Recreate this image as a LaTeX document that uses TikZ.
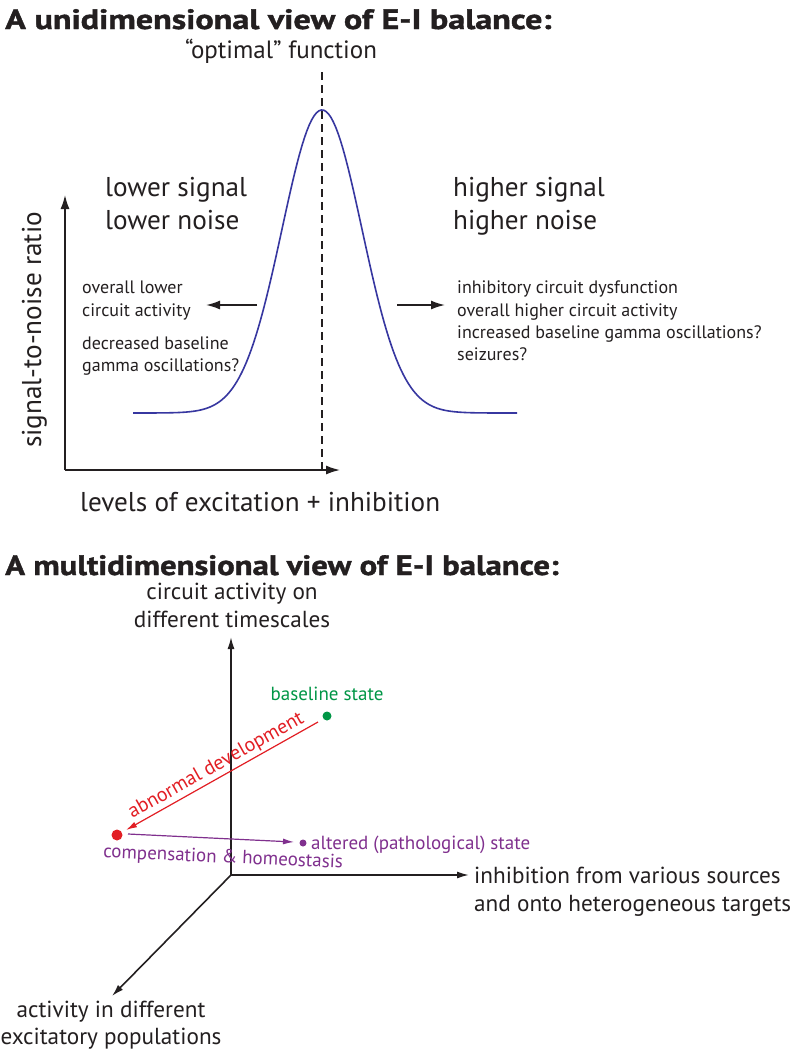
\documentclass[tikz,border=0pt]{standalone}
\usepackage{fontspec}
\setmainfont{PT Sans}
\newfontfamily\titlefont[BoldFeatures={FakeBold=1.2}]{PT Sans}
\usetikzlibrary{arrows.meta}
\definecolor{ink}{RGB}{35,31,32}
\definecolor{curveblue}{RGB}{55,55,160}
\definecolor{stgreen}{RGB}{0,150,70}
\definecolor{devred}{RGB}{226,30,36}
\definecolor{homeopurple}{RGB}{128,48,142}
\tikzset{
  title/.style={font=\fontsize{28}{30}\titlefont\bfseries, text=ink, inner sep=0pt, anchor=base west},
  bigtxt/.style={font=\fontsize{27.2}{30}\selectfont, text=ink, inner sep=0pt},
  midtxt/.style={font=\fontsize{23.2}{27}\selectfont, text=ink, inner sep=0pt},
  smalltxt/.style={font=\fontsize{18}{22}\selectfont, text=ink, inner sep=0pt, anchor=base west},
  coltxt/.style={font=\fontsize{19}{22}\selectfont, inner sep=0pt},
  axis1/.style={draw=ink, line width=1.5pt, -{Latex[length=14pt,width=9pt]}},
  axis2/.style={draw=ink, line width=1.6pt, -{Latex[length=12pt,width=7pt]}},
  shortarrow/.style={draw=ink, line width=1.6pt, -{Latex[length=14pt,width=9pt]}},
}
\begin{document}
\begin{tikzpicture}[x=1pt,y=-1pt]
\useasboundingbox[fill=white] (0,0) rectangle (794,1050);

% ---------- Part 1 ----------
\node[title, xscale=1.22] (t1) at (5,29) {A unidimensional view of E-I balance:};
\node[bigtxt, font=\fontsize{25}{30}\selectfont, anchor=base] (opt) at (281,58) {“optimal” function};

\draw[ink, line width=1.3pt, dash pattern=on 8pt off 5pt] (322,72) -- (322,470);

\draw[curveblue, line width=1.6pt, line join=round]
  plot[domain=133:517, samples=160] (\x, {413-303*exp(-0.5*((\x-322)/40)^2)});

\coordinate (o1) at (65,470);
\coordinate (ytip) at (65,195);
\coordinate (xtip) at (340,470);
\draw[axis1] (o1) -- (ytip);
\draw[axis1] (o1) -- (xtip);

\node[bigtxt, rotate=90, anchor=base] (snr) at (41,330) {signal-to-noise ratio};
\node[bigtxt, anchor=base west] (lev) at (80,511) {levels of excitation + inhibition};

\node[bigtxt, anchor=base west] (ls1) at (105,196) {lower signal};
\node[bigtxt, anchor=base west] (ls2) at (105,229) {lower noise};
\node[bigtxt, anchor=base west] (hs1) at (453,196) {higher signal};
\node[bigtxt, anchor=base west] (hs2) at (453,229) {higher noise};

\node[smalltxt] (l1) at (82,293) {overall lower};
\node[smalltxt] (l2) at (82,316) {circuit activity};
\node[smalltxt] (l3) at (82,349) {decreased baseline};
\node[smalltxt] (l4) at (82,371) {gamma oscillations?};

\node[smalltxt] (r1) at (457,293) {inhibitory circuit dysfunction};
\node[smalltxt] (r2) at (457,316) {overall higher circuit activity};
\node[smalltxt] (r3) at (457,338) {increased baseline gamma oscillations?};
\node[smalltxt] (r4) at (457,360) {seizures?};

\coordinate (la0) at (257,305);
\coordinate (la1) at (206,305);
\coordinate (ra0) at (397,305);
\coordinate (ra1) at (445,305);
\draw[shortarrow] (la0) -- (la1);
\draw[shortarrow] (ra0) -- (ra1);

% ---------- Part 2 ----------
\node[title, xscale=1.17] (t2) at (5,575) {A multidimensional view of E-I balance:};
\node[midtxt, anchor=base] (yl1) at (232,599) {circuit activity on};
\node[midtxt, anchor=base] (yl2) at (232,627) {different timescales};

\coordinate (o2) at (231,875);
\coordinate (y2) at (231,637);
\coordinate (x2) at (469,875);
\coordinate (z2) at (112,996);
\draw[axis2] (o2) -- (y2);
\draw[axis2] (o2) -- (x2);
\draw[axis2] (o2) -- (z2);

\node[midtxt, anchor=base west] (xl1) at (474,883) {inhibition from various sources};
\node[midtxt, anchor=base west] (xl2) at (474,911) {and onto heterogeneous targets};
\node[midtxt, anchor=base] (zl1) at (111,1017) {activity in different};
\node[midtxt, anchor=base] (zl2) at (111,1044) {excitatory populations};

\node[circle, fill=stgreen, inner sep=0pt, minimum size=9pt] (base) at (327,716) {};
\node[coltxt, text=stgreen, anchor=base] (basel) at (327,700) {baseline state};

\node[circle, fill=devred, inner sep=0pt, minimum size=11pt] (abn) at (117,835) {};
\node[circle, fill=homeopurple, inner sep=0pt, minimum size=7pt] (alt) at (303,843) {};
\node[coltxt, text=homeopurple, anchor=base west] (altl) at (311,849) {altered (pathological) state};

\draw[devred, line width=1.2pt, -{Latex[length=11pt,width=6pt]}] (318,722) -- node[sloped, above=2pt, font=\fontsize{20}{22}\selectfont, text=devred, inner sep=0pt] (abl) {abnormal development} (126,830);

\draw[homeopurple, line width=1.2pt, -{Latex[length=11pt,width=6pt]}] (128,834) -- (294,842);
\node[coltxt, text=homeopurple, rotate=-2.5] (comp) at (223,858) {compensation \& homeostasis};

\end{tikzpicture}
\end{document}
